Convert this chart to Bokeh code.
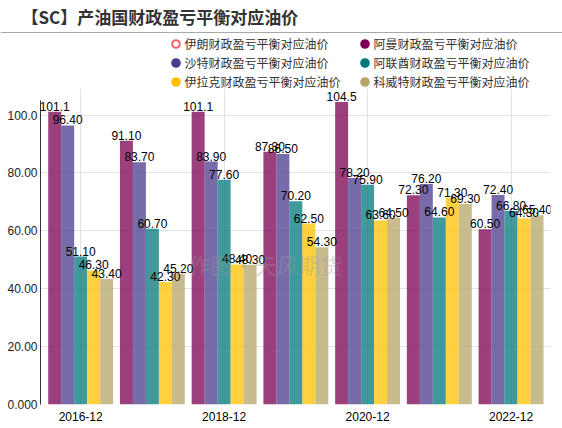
from bokeh.plotting import figure
from bokeh.layouts import column
from bokeh.models import (ColumnDataSource, FixedTicker, Legend, LegendItem, Label,
                          LabelSet, Span, Range1d)
from bokeh.core.properties import value
from bokeh.embed import file_html
from bokeh.resources import INLINE

# ---------------- data ----------------
categories = ["2016-12", "2017-12", "2018-12", "2019-12", "2020-12", "2021-12", "2022-12"]
shown_ticks = [0, 2, 4, 6]
y_ticks = [0, 20, 40, 60, 80, 100]

name_iran = "伊朗财政盈亏平衡对应油价"
name_oman = "阿曼财政盈亏平衡对应油价"
name_saudi = "沙特财政盈亏平衡对应油价"
name_uae = "阿联酋财政盈亏平衡对应油价"
name_iraq = "伊拉克财政盈亏平衡对应油价"
name_kuwait = "科威特财政盈亏平衡对应油价"

iran = []  # no values shown in the chart
oman = [101.1, 91.1, 101.1, 87.3, 104.5, 72.3, 60.5]
saudi = [96.4, 83.7, 83.9, 86.5, 78.2, 76.2, 72.4]
uae = [51.1, 60.7, 77.6, 70.2, 75.9, 64.6, 66.8]
iraq = [46.3, 42.3, 48.4, 62.5, 63.6, 71.3, 64.3]
kuwait = [43.4, 45.2, 48.3, 54.3, 64.5, 69.3, 65.4]

TITLE = "【SC】产油国财政盈亏平衡对应油价"
WATERMARK = "作图·天风期货"

CJK = "Noto Sans CJK SC"
LAT = "Liberation Sans"

# ---------------- header (title, separator, legend) ----------------
HH = 88
h = figure(width=562, height=HH, output_backend="svg", toolbar_location=None,
           x_range=Range1d(0, 562), y_range=Range1d(0, HH),
           x_axis_type=None, y_axis_type=None, frame_align=False,
           min_border_left=0, min_border_right=0, min_border_top=0, min_border_bottom=0,
           outline_line_color=None, background_fill_color="white", border_fill_color="white")
h.xgrid.visible = False
h.ygrid.visible = False

h.text(x=[21], y=[HH - 16], text=[TITLE], text_font=value(CJK), text_font_size="17px",
       text_font_style="bold", text_color="#333333", text_baseline="middle")
h.add_layout(Span(location=HH - 32, dimension="width", line_color="#a8a8a8", line_width=1))

NAN = float("nan")

def marker(fill, line):
    # legend swatch only (no visible point)
    return h.scatter(x=[NAN], y=[NAN], marker="circle", fill_color=fill, line_color=line,
                     line_width=2)

r_iran = marker("white", "#f2636b")
r_oman = marker("#7b0052", "#7b0052")
r_saudi = marker("#4b3a8e", "#4b3a8e")
r_uae = marker("#00787a", "#00787a")
r_iraq = marker("#ffc000", "#ffc000")
r_kuwait = marker("#b5a66a", "#b5a66a")

def make_legend(items, loc):
    lg = Legend(items=[LegendItem(label=n, renderers=[r]) for n, r in items],
                location=loc, orientation="vertical", glyph_width=19, glyph_height=19,
                label_height=19, label_standoff=0, spacing=0, padding=0, margin=0,
                border_line_color=None, background_fill_alpha=0,
                label_text_font=CJK, label_text_font_size="12px",
                label_text_color="#333333")
    h.add_layout(lg, "center")

make_legend([(name_iran, r_iran), (name_saudi, r_saudi), (name_iraq, r_iraq)], (165.5, HH - 90.5))
make_legend([(name_oman, r_oman), (name_uae, r_uae), (name_kuwait, r_kuwait)], (354.5, HH - 90.5))

# ---------------- chart ----------------
p = figure(width=562, height=428 - HH, output_backend="svg", toolbar_location=None,
           x_range=Range1d(-0.56, 6.55), y_range=Range1d(0, (404 - HH) / 2.895),
           frame_align=False,
           min_border_left=40, min_border_right=12, min_border_top=0, min_border_bottom=24,
           outline_line_color=None, background_fill_color="white", border_fill_color="white")

bw = 0.181
series = [
    (oman, "#7b0052", -2),
    (saudi, "#4b3a8e", -1),
    (uae, "#00787a", 0),
    (iraq, "#ffc000", 1),
    (kuwait, "#b5a66a", 2),
]

for vals, col, k in series:
    xs = [i + k * bw for i in range(len(categories))]
    src = ColumnDataSource(dict(x=xs, top=vals, lab=[f"{v:#.4g}" for v in vals]))
    p.vbar(x="x", top="top", width=bw, source=src, fill_color=col, fill_alpha=0.75,
           line_color=None)
    p.add_layout(LabelSet(x="x", y="top", text="lab", source=src, text_align="center",
                          text_baseline="alphabetic", y_offset=1,
                          text_font=value(LAT), text_font_size=value("12px"),
                          text_color=value("#000000")))

# watermark
p.add_layout(Label(x=225, y=141, x_units="screen", y_units="screen", text=WATERMARK,
                   text_font=CJK, text_font_size="22px",
                   text_color="#999999", text_alpha=0.35, text_align="center",
                   text_baseline="middle"))

# axes
p.xaxis.ticker = FixedTicker(ticks=shown_ticks)
p.xaxis.major_label_overrides = {t: categories[t] for t in shown_ticks}
p.xaxis.axis_line_color = None
p.xaxis.major_tick_line_color = None
p.xaxis.major_tick_out = 0
p.xaxis.major_tick_in = 0
p.xaxis.minor_tick_line_color = None
p.xaxis.major_label_standoff = 7
p.xaxis.major_label_text_font = LAT
p.xaxis.major_label_text_font_size = "12px"
p.xaxis.major_label_text_color = "#000000"

p.yaxis.ticker = FixedTicker(ticks=y_ticks)
p.yaxis.major_label_overrides = {t: f"{t:#.4g}" for t in y_ticks}
p.yaxis.bounds = (0, 105)
p.yaxis.axis_line_color = "#333333"
p.yaxis.major_tick_line_color = None
p.yaxis.major_tick_out = 0
p.yaxis.major_tick_in = 0
p.yaxis.minor_tick_line_color = None
p.yaxis.major_label_standoff = 3
p.yaxis.major_label_text_font = LAT
p.yaxis.major_label_text_font_size = "12px"
p.yaxis.major_label_text_color = "#222222"

p.xgrid.ticker = FixedTicker(ticks=shown_ticks)
p.xgrid.grid_line_color = "#e2e2e2"
p.ygrid.ticker = FixedTicker(ticks=y_ticks)
p.ygrid.grid_line_color = "#e2e2e2"

layout = column(h, p, spacing=0)
open("out.html", "w").write(file_html(layout, INLINE))
